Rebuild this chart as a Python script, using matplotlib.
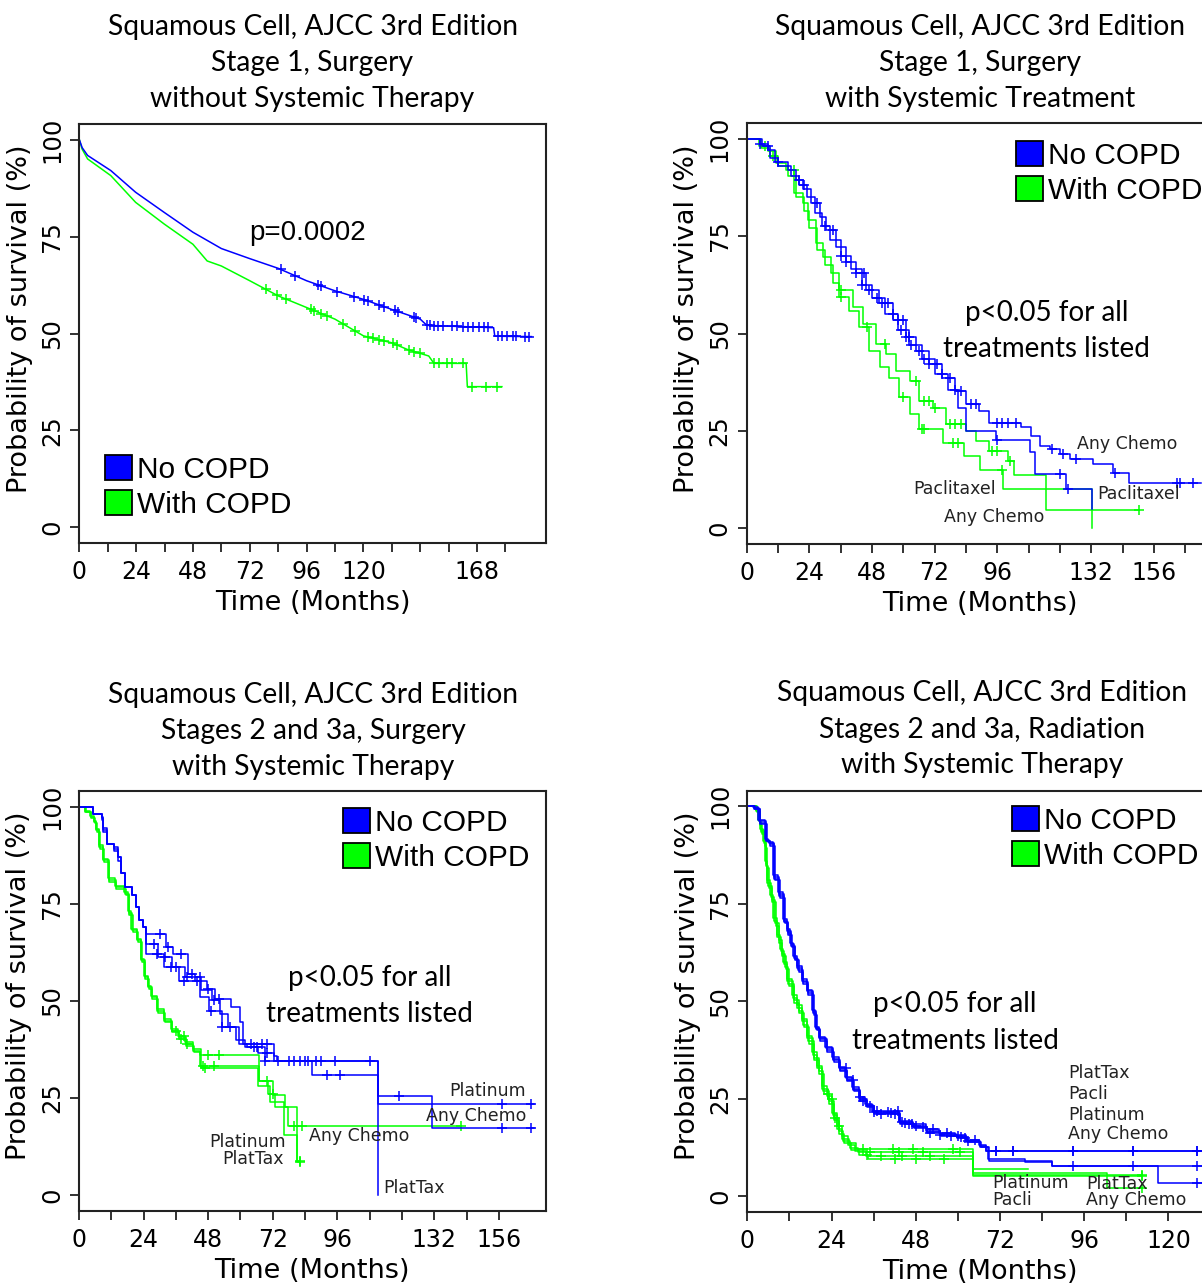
import numpy as np
import matplotlib
matplotlib.use("Agg")
import matplotlib.pyplot as plt
from matplotlib.patches import Patch

W, H = 1202, 1283
BLUE = "#0000ff"
GREEN = "#00ff00"
TITLE_FONT = "Lato"
AXIS_FONT = "DejaVu Sans"
LEGEND_FONT = "Liberation Sans"

# ---- panel 1: stage 1, surgery without systemic therapy ----
p1_no_t = [0, 1.2, 3.5, 13.3, 23.8, 35.9, 48, 60, 72, 84, 96, 108, 120, 132, 144, 146.8, 175, 175.5, 191]
p1_no_s = [100, 97.9, 95.9, 92.0, 86.4, 81.2, 76.1, 71.9, 69.3, 66.8, 63.6, 61.0, 58.8, 56.2, 53.7, 52.1, 51.5, 49.3, 49.2]
p1_no_cens = [85, 91, 100.8, 102.3, 109, 116, 120.4, 122, 126.5, 128.7, 133.2, 134.8, 141.5, 142.3, 146.8,
              148.3, 149.8, 151.3, 153.6, 157.4, 159.7, 161.9, 164.2, 166.4, 168.7, 171, 172.5, 177, 178.5,
              180.8, 183, 184.6, 188.3, 189.8]
p1_copd_t = [0, 1.2, 3.5, 13.3, 23.8, 35.9, 48, 54, 60, 72, 84, 96, 108, 120, 132, 138.5, 147.6, 149.8, 163.4, 163.9, 178.5]
p1_copd_s = [100, 97.5, 95, 90.7, 83.8, 78.2, 73, 68.7, 67.4, 63.6, 59.7, 56.7, 53.7, 49.4, 47.6, 45.9, 44.2, 42.3, 42.3, 36.3, 36.3]
p1_copd_cens = [78.9, 83.4, 87.2, 97.8, 99.3, 102.3, 104.6, 111.4, 116.6, 121.9, 124.2, 126.5, 128.7, 132.5, 134,
                139.3, 141.5, 143.8, 149.8, 152.1, 155.1, 157.4, 161.9, 165.7, 171.7, 176.3]

# ---- panel 2: stage 1, surgery with systemic treatment ----
p2_no_any_t = [0, 5, 8, 11, 16, 19, 21.5, 24.7, 28, 30.4, 34.2, 38, 42, 45.7, 50.8, 56, 61, 65, 70, 75, 80, 84, 89,
               93, 105, 109, 112.4, 116.3, 120, 124, 132.8, 140.5, 146.3, 174]
p2_no_any_s = [100, 98.5, 97, 94, 92, 89.5, 87, 83.5, 80, 76.6, 72.3, 68.4, 65.4, 61.1, 57.7, 53.4, 49.1, 45.6, 42.2,
               38.7, 35.3, 32, 30, 27, 26, 23.8, 21.2, 20.3, 19, 17.7, 16.4, 14.3, 11.7, 11.7]
p2_no_any_cens = [5, 12, 20, 27, 33, 38, 42, 45, 47, 52, 54, 58, 60, 61, 62, 66, 70, 73, 78, 82, 86, 88, 96, 98, 100,
                  103, 117, 121, 126, 141, 165, 166, 171]
p2_no_pac_t = [0, 6, 9, 12, 17, 20, 23, 26, 29, 32, 36, 40, 44, 48, 53, 58, 62, 67, 72, 77, 81, 84.1, 95.6, 108.5,
               110.5, 122.4, 132.2]
p2_no_pac_s = [100, 98, 95, 93, 90.5, 88, 85, 81, 77.5, 74, 70, 66.5, 62.5, 59, 55, 51, 47, 43.5, 39.5, 35.5, 31, 25,
               22.8, 19.5, 14, 10.1, 5]
p2_no_pac_cens = [8, 22, 30, 36, 44, 50, 56, 59, 63, 68, 75, 80, 96, 120, 123]
p2_copd_any_t = [0, 4.9, 8, 11.2, 15.1, 18.3, 21.5, 23.4, 26.6, 29.1, 32.3, 35.5, 40.6, 44.5, 49.6, 53.4, 57.2, 62.4,
                 66.2, 71.3, 76.4, 84.1, 87.9, 93, 100, 102.6, 114.7, 150.5]
p2_copd_any_s = [100, 98, 96.8, 93.8, 92, 86, 83.5, 79.2, 73.1, 69.7, 65.4, 61.1, 56.8, 52.5, 47.3, 44.8, 40.4, 37.9,
                 32.7, 31, 26.7, 25, 22.4, 19.8, 17.2, 13.8, 4.7, 4.7]
p2_copd_any_cens = [7, 18, 36, 53, 65, 68, 70, 72, 78, 80, 82, 94, 96, 101, 150.5]
p2_copd_pac_t = [0, 5.5, 9, 12, 16, 19, 22, 24, 27, 30, 33, 35.5, 39.3, 43.2, 47, 50.9, 54.7, 58.5, 62.4, 66.2, 75.1,
                 83.4, 89.2, 98.1, 132.2]
p2_copd_pac_s = [100, 97.5, 95.5, 93, 90.5, 85, 81.5, 77, 71.5, 67.5, 63, 59.4, 55.9, 51.6, 45.6, 41.3, 38.7, 33.6,
                 29.3, 25.4, 21.9, 18.5, 15.1, 10.1, 0]
p2_copd_pac_cens = [10, 36, 46, 60, 67, 68, 79, 81, 98]

# ---- panel 3: stages 2 and 3a, surgery with systemic therapy ----
p3_no_plat_t = [0, 5.3, 8.4, 9, 10.4, 13, 14.4, 15.7, 17.1, 19.7, 21, 22.4, 23.7, 25, 32.4, 35, 40.4, 43, 47.7, 50.4,
                56.4, 59.7, 61, 72.4, 73.7, 111, 131, 169]
p3_no_plat_s = [100, 98.1, 97.2, 94.5, 90.4, 89.5, 87, 82.8, 79.3, 77.2, 74.2, 70.7, 69, 67.3, 63.9, 62.1, 57, 55.2,
                53.1, 50.5, 48.4, 44.5, 38.9, 35.9, 34.6, 25.6, 23.4, 23.4]
p3_no_plat_cens = [30, 33, 38, 42, 48, 52, 64, 68, 70, 80, 85, 88, 95, 119, 157, 168]
p3_no_any_t = [0, 5.3, 8.4, 9, 10.4, 13, 14.4, 15.7, 17.1, 19.7, 21, 22.4, 23.7, 25, 29.5, 34.5, 39.5, 45.5, 49.5,
               52.5, 55.5, 59.5, 62.5, 66.5, 72.5, 86.5, 111, 131, 169]
p3_no_any_s = [100, 98.1, 96.5, 93.5, 90.4, 88.5, 86, 82.8, 79.3, 77.2, 74.2, 70.7, 69, 64.7, 61.3, 58.7, 56.1, 52.7,
               50.1, 46.6, 43.2, 38.9, 38, 36.5, 34.6, 31, 23.4, 17.3, 17.3]
p3_no_any_cens = [28, 32, 36, 40, 45, 50, 56, 65, 70, 78, 82, 92, 97, 157, 168]
p3_no_pt_t = [0, 5.3, 8.4, 9, 10.4, 13, 14.4, 15.7, 17.1, 19.7, 21, 22.4, 23.7, 25, 31.7, 37, 45, 48.4, 53, 58.4,
              61.7, 69, 111]
p3_no_pt_s = [100, 98.1, 97, 94, 90.4, 89, 87, 82.8, 79.3, 77.2, 74.2, 70.7, 69, 62.1, 58.7, 55.2, 50.9, 47.5, 43.2,
              39.8, 38, 34.6, 0]
p3_no_pt_cens = [29, 34, 39, 44, 49, 53, 66, 69, 74, 84, 90, 108]
p3_copd_any_t = [0, 2.4, 4.4, 5.7, 6.4, 7.5, 9, 11.1, 13.7, 17.1, 18.4, 19.7, 21.7, 23.1, 24.4, 25.7, 27.1, 29.1,
                 31.7, 34.4, 37.1, 39.7, 42.4, 45, 67, 72, 76.4, 77.5, 142]
p3_copd_any_s = [100, 98.7, 97.4, 96.1, 94, 89.7, 86.2, 81.1, 79.3, 77.6, 72.5, 68.2, 65.6, 60.4, 56.1, 53.5, 50.9,
                 47.5, 44.9, 42.3, 40.6, 38.9, 37.2, 36, 29.3, 25.8, 22.8, 17.8, 17.8]
p3_copd_any_cens = [36, 40, 48, 52, 70, 80, 83, 142]
p3_copd_plat_t = [0, 2.6, 4.6, 5.9, 6.6, 7.7, 9.2, 11.3, 13.9, 17.3, 18.6, 19.9, 21.9, 23.3, 24.6, 25.9, 27.3, 29.3,
                  31.9, 34.6, 37.3, 39.9, 42.6, 45, 67, 70.4, 73, 81.1, 82.1]
p3_copd_plat_s = [100, 98.5, 97, 95.8, 93.5, 89.2, 85.8, 80.7, 78.9, 77.2, 72, 67.8, 65.2, 60, 55.7, 53, 50.5, 47,
                  44.5, 41.9, 40.2, 38.5, 36.8, 33.3, 29.5, 26, 22.8, 8.5, 8.5]
p3_copd_plat_cens = [38, 46, 50, 72, 82]
p3_copd_pt_t = [0, 2.2, 4.2, 5.5, 6.2, 7.3, 8.8, 10.9, 13.5, 16.9, 18.2, 19.5, 21.5, 22.9, 24.2, 25.5, 26.9, 28.9,
                31.5, 34.2, 36.9, 39.5, 42.2, 45.5, 66.5, 71, 76, 81, 82]
p3_copd_pt_s = [100, 98.9, 97.6, 96.4, 94.3, 90.1, 86.6, 81.5, 79.6, 78, 73, 68.6, 66, 60.8, 56.5, 53.9, 51.3, 47.9,
                45.3, 42.7, 41, 39.3, 37.5, 32.8, 28, 24, 15.6, 8.8, 8.8]
p3_copd_pt_cens = [39, 47, 82]

# ---- panel 4: stages 2 and 3a, radiation with systemic therapy ----
p4_no_any_t = [0, 1.9, 3.3, 5.2, 6.2, 7.6, 9, 10.5, 11.4, 12.4, 13.3, 14.3, 15.7, 17.1, 18.6, 19.5, 20.5, 22.4, 24.3,
               26.2, 28.1, 30, 31.9, 33.8, 35.7, 43.3, 47.1, 51, 54.8, 59.5, 62.4, 66.2, 68.1, 131]
p4_no_any_s = [100, 99.6, 96.1, 91.4, 90.5, 81.9, 77.6, 70.7, 68.1, 64.7, 61.2, 58.6, 55.2, 52.6, 47.4, 43.1, 40.5,
               37.9, 35.3, 32.8, 30.2, 27.6, 25, 23.3, 21.6, 19, 18.1, 16.8, 15.9, 15.5, 14.2, 12.9, 11.6, 11.6]
p4_no_any_cens = [28, 36, 40, 44, 48, 60, 63, 71, 75.8, 92.9, 110, 128.2]
p4_no_plat_t = [0, 2.2, 3.6, 5.5, 6.5, 7.9, 9.3, 10.8, 11.7, 12.7, 13.6, 14.6, 16, 17.4, 18.9, 19.8, 20.8, 22.7, 24.6,
                26.5, 28.4, 30.3, 32.2, 34.1, 36, 43.6, 47.4, 51.3, 55.1, 59.8, 62.7, 66.5, 69, 86.7, 131]
p4_no_plat_s = [100, 99.2, 95.5, 91, 89.8, 81, 76.5, 70, 67, 63.8, 60.5, 57.5, 54.3, 51.5, 46.5, 42.5, 39.8, 37, 34.5,
                32, 29.5, 27, 24.5, 22.8, 21, 18.5, 17.5, 16.3, 15.5, 15, 13.8, 12.5, 9, 7.8, 7.8]
p4_no_plat_cens = [33, 38, 42, 46, 52, 58, 62, 92.9, 110, 128.2]
p4_no_pt_t = [0, 2, 3.5, 5.3, 6.4, 7.7, 9.1, 10.6, 11.6, 12.5, 13.5, 14.4, 15.9, 17.2, 18.7, 19.7, 20.7, 22.6, 24.5,
              26.4, 28.3, 30.2, 32.1, 34, 36, 43.4, 47.3, 51.1, 55, 59.7, 62.6, 66.4, 68.5, 79, 86.7, 117, 131]
p4_no_pt_s = [100, 99.4, 95.8, 91.2, 90.2, 81.4, 77, 70.3, 67.5, 64.2, 60.8, 58, 54.8, 52, 47, 42.8, 40.2, 37.5, 34.9,
              32.4, 29.8, 27.3, 24.8, 23, 21.3, 18.7, 17.8, 16.5, 15.7, 15.2, 14, 12.7, 9.5, 8.8, 7.8, 3.4, 3.4]
p4_no_pt_cens = [30, 35, 41, 45, 50, 55, 61, 128.2]
p4_no_pac_t = [0, 1.7, 3.1, 5, 6, 7.4, 8.8, 10.3, 11.2, 12.2, 13.1, 14.1, 15.5, 16.9, 18.4, 19.3, 20.3, 22.2, 24.1,
               26, 27.9, 29.8, 31.7, 33.6, 35.5, 43.1, 46.9, 50.8, 54.6, 59.3, 62.2, 66, 68.1, 131]
p4_no_pac_s = [100, 99.8, 96.4, 91.6, 90.8, 82.3, 78, 71, 68.5, 65, 61.6, 59, 55.6, 53, 47.8, 43.5, 40.8, 38.2, 35.6,
               33.1, 30.5, 27.9, 25.3, 23.6, 21.9, 19.3, 18.4, 17.1, 16.2, 15.7, 14.5, 13.2, 11.6, 11.6]
p4_no_pac_cens = [32, 37, 43, 47, 53, 57, 65, 71, 75.8, 92.9, 110, 128.2]
p4_copd_any_t = [0, 2.4, 3.3, 3.8, 4.8, 5.2, 5.7, 6.7, 7.6, 8.6, 9.5, 10.5, 11.4, 12.9, 14.3, 15.7, 17.1, 18.6, 20,
                 21.4, 22.9, 24.3, 25.7, 27.1, 29, 31, 64.3, 102.4, 112.4]
p4_copd_any_s = [100, 99.1, 96.1, 93.9, 90.5, 85.3, 80.2, 76.7, 70.7, 66.4, 62.9, 59.5, 55.2, 50.9, 48.3, 44.8, 40.5,
                 36.2, 32.8, 27.6, 25, 20.7, 17.2, 14.7, 13.5, 12.1, 6, 2.1, 2.1]
p4_copd_any_cens = [24, 33, 41.4, 47.1, 58.6, 112.4]
p4_copd_plat_t = [0, 2.6, 3.5, 4, 5, 5.4, 6, 6.9, 7.9, 8.9, 9.8, 10.8, 11.7, 13.2, 14.6, 16, 17.4, 18.9, 20.3, 21.7,
                  23.2, 24.6, 26, 27.4, 29.3, 31.5, 64.3, 80]
p4_copd_plat_s = [100, 98.8, 95.6, 93.4, 89.8, 84.6, 79.5, 76, 70, 65.6, 62.2, 58.8, 54.5, 50.2, 47.6, 44, 39.8, 35.5,
                  32, 27, 24.3, 20, 16.6, 14.2, 12.4, 11.2, 6.9, 6.9]
p4_copd_plat_cens = [25, 35, 43.3, 50, 60.5]
p4_copd_pac_t = [0, 2.2, 3.1, 3.6, 4.6, 5, 5.5, 6.5, 7.4, 8.4, 9.3, 10.3, 11.2, 12.7, 14.1, 15.5, 16.9, 18.4, 19.8,
                 21.2, 22.7, 24.1, 25.5, 26.9, 28.8, 30.8, 33.8, 64.3, 112.5]
p4_copd_pac_s = [100, 99.3, 96.5, 94.2, 91, 86, 81, 77.3, 71.3, 67, 63.5, 60.1, 55.8, 51.5, 49, 45.5, 41.2, 36.9,
                 33.5, 28.3, 25.7, 21.4, 17.9, 15.3, 13, 11.6, 10.3, 5.5, 5.5]
p4_copd_pac_cens = [26, 38, 44, 52, 112.5]
p4_copd_pt_t = [0, 2.8, 3.7, 4.2, 5.2, 5.6, 6.2, 7.1, 8.1, 9.1, 10, 11, 11.9, 13.4, 14.8, 16.2, 17.6, 19.1, 20.5,
                21.9, 23.4, 24.8, 26.2, 27.6, 29.5, 31.7, 34.5, 64.3, 112.5]
p4_copd_pt_s = [100, 98.5, 95.3, 93, 89.4, 84.2, 79, 75.4, 69.4, 65, 61.6, 58.2, 54, 49.6, 47, 43.3, 39, 34.8, 31.3,
                26.3, 23.6, 19.4, 16, 13.6, 11.9, 10.5, 9.5, 5.2, 5.2]
p4_copd_pt_cens = [23, 34, 42, 48, 56, 112.5]

titles = [
    ["Squamous Cell, AJCC 3rd Edition", "Stage 1, Surgery", "without Systemic Therapy"],
    ["Squamous Cell, AJCC 3rd Edition", "Stage 1, Surgery", "with Systemic Treatment"],
    ["Squamous Cell, AJCC 3rd Edition", "Stages 2 and 3a, Surgery", "with Systemic Therapy"],
    ["Squamous Cell, AJCC 3rd Edition", "Stages 2 and 3a, Radiation", "with Systemic Therapy"],
]
shown_ticks = [
    [0, 24, 48, 72, 96, 120, 168],
    [0, 24, 48, 72, 96, 132, 156],
    [0, 24, 48, 72, 96, 132, 156],
    [0, 24, 48, 72, 96, 120],
]
legend_labels = ["No COPD", "With COPD"]
p_note = ["p<0.05 for all", "treatments listed"]

# curve end labels: (text, month, survival)
p2_labels = [("Any Chemo", 126.7, 21.6), ("Paclitaxel", 63.7, 10.2),
             ("Paclitaxel", 134.3, 8.7), ("Any Chemo", 75.7, 2.8)]
p3_labels = [("Platinum", 137.5, 26.9), ("Any Chemo", 129, 20.4), ("Any Chemo", 85.5, 15.2),
             ("Platinum", 48.3, 13.7), ("PlatTax", 53.2, 9.3), ("PlatTax", 113, 1.8)]
p4_labels = [("PlatTax", 91.4, 31.6), ("Pacli", 91.4, 26.2), ("Platinum", 91.4, 20.7),
             ("Any Chemo", 91.4, 15.9), ("Platinum", 69.7, 3.4), ("Pacli", 69.7, -1.0),
             ("PlatTax", 96.5, 3.2), ("Any Chemo", 96.5, -1.0)]

fig = plt.figure(figsize=(W / 100, H / 100), dpi=100)


def px_rect(left, top, width, height):
    return [left / W, 1 - (top + height) / H, width / W, height / H]


def draw_panel(rect, xmax, last_tick, shown, curves, step=True):
    ax = fig.add_axes(px_rect(*rect))
    for t, s, cens, color in curves:
        t = np.asarray(t, float)
        s = np.asarray(s, float)
        cens = np.asarray(cens, float)
        if step:
            ax.step(t, s, where="post", color=color, lw=1.1)
            cy = s[np.searchsorted(t, cens, side="right") - 1]
        else:
            ax.plot(t, s, color=color, lw=1.1)
            cy = np.interp(cens, t, s)
        ax.plot(cens, cy, ls="none", marker="+", ms=7, mew=1.1, color=color)

    ax.set_xlim(0, xmax)
    ax.set_ylim(-4, 104)
    ticks = np.arange(0, last_tick + 1, 12)
    ax.set_xticks(ticks)
    ax.set_xticklabels([str(v) if v in shown else "" for v in ticks], fontfamily=AXIS_FONT, fontsize=17)
    ax.set_yticks([0, 25, 50, 75, 100])
    ax.set_yticklabels(["0", "25", "50", "75", "100"], fontfamily=AXIS_FONT, fontsize=17.5,
                       rotation=90, va="center")
    ax.tick_params(axis="both", direction="out", length=6.3, width=1.3, color="#222222")
    ax.tick_params(axis="x", pad=6)
    ax.tick_params(axis="y", pad=4.5)
    for sp in ax.spines.values():
        sp.set_linewidth(1.5)
        sp.set_color("#222222")

    ax.set_xlabel("Time (Months)", fontfamily=AXIS_FONT, fontsize=19.5)
    ax.xaxis.set_label_coords(0.5, -0.112)
    ax.set_ylabel("Probability of survival (%)", fontfamily=AXIS_FONT, fontsize=19.5)
    ax.yaxis.set_label_coords(-0.1, 0.536)
    return ax


def add_legend(ax, loc, anchor):
    handles = [Patch(facecolor=BLUE, edgecolor="black", lw=1.3),
               Patch(facecolor=GREEN, edgecolor="black", lw=1.3)]
    ax.legend(handles, legend_labels, loc=loc, bbox_to_anchor=anchor, frameon=False,
              prop={"family": LEGEND_FONT, "size": 21.5}, handlelength=0.9, handleheight=0.9,
              handletextpad=0.17, labelspacing=0.22, borderpad=0, borderaxespad=0)


def add_title(x_px, baselines, lines):
    for y_px, line in zip(baselines, lines):
        fig.text(x_px / W, 1 - y_px / H, line, ha="center", va="baseline",
                 fontfamily=TITLE_FONT, fontsize=20.3)


def add_note(ax, x, ys):
    for y, line in zip(ys, p_note):
        ax.text(x, y, line, ha="center", va="center", fontfamily=TITLE_FONT, fontsize=20)


def add_curve_labels(ax, labels):
    for text, x, y in labels:
        ax.text(x, y, text, ha="left", va="center", fontfamily=AXIS_FONT, fontsize=12.5, color="#222222")


# panel 1
ax1 = draw_panel((79.3, 124, 466.4, 419), 197, 180, shown_ticks[0],
                 [(p1_copd_t, p1_copd_s, p1_copd_cens, GREEN),
                  (p1_no_t, p1_no_s, p1_no_cens, BLUE)], step=False)
add_legend(ax1, "lower left", (0.055, 0.057))
ax1.text(96.2, 76, "p=0.0002", ha="center", va="center", fontfamily=LEGEND_FONT, fontsize=20)
add_title(312.5, [35, 71.5, 107.5], titles[0])

# panel 2
ax2 = draw_panel((746.7, 123, 466.4, 421), 178.7, 168, shown_ticks[1],
                 [(p2_copd_any_t, p2_copd_any_s, p2_copd_any_cens, GREEN),
                  (p2_copd_pac_t, p2_copd_pac_s, p2_copd_pac_cens, GREEN),
                  (p2_no_any_t, p2_no_any_s, p2_no_any_cens, BLUE),
                  (p2_no_pac_t, p2_no_pac_s, p2_no_pac_cens, BLUE)])
add_legend(ax2, "upper left", (0.577, 0.957))
add_note(ax2, 115, [55.2, 46.1])
add_curve_labels(ax2, p2_labels)
add_title(980, [35, 71.5, 107.5], titles[1])

# panel 3
ax3 = draw_panel((79, 791, 466.7, 419.7), 173.4, 156, shown_ticks[2],
                 [(p3_copd_any_t, p3_copd_any_s, p3_copd_any_cens, GREEN),
                  (p3_copd_plat_t, p3_copd_plat_s, p3_copd_plat_cens, GREEN),
                  (p3_copd_pt_t, p3_copd_pt_s, p3_copd_pt_cens, GREEN),
                  (p3_no_plat_t, p3_no_plat_s, p3_no_plat_cens, BLUE),
                  (p3_no_any_t, p3_no_any_s, p3_no_any_cens, BLUE),
                  (p3_no_pt_t, p3_no_pt_s, p3_no_pt_cens, BLUE)])
add_legend(ax3, "upper left", (0.566, 0.9595))
add_note(ax3, 108, [55.8, 46.5])
add_curve_labels(ax3, p3_labels)
add_title(313, [702.5, 739.5, 775.5], titles[2])

# panel 4
ax4 = draw_panel((747.3, 790.7, 466, 421), 132.8, 132, shown_ticks[3],
                 [(p4_copd_any_t, p4_copd_any_s, p4_copd_any_cens, GREEN),
                  (p4_copd_plat_t, p4_copd_plat_s, p4_copd_plat_cens, GREEN),
                  (p4_copd_pac_t, p4_copd_pac_s, p4_copd_pac_cens, GREEN),
                  (p4_copd_pt_t, p4_copd_pt_s, p4_copd_pt_cens, GREEN),
                  (p4_no_any_t, p4_no_any_s, p4_no_any_cens, BLUE),
                  (p4_no_plat_t, p4_no_plat_s, p4_no_plat_cens, BLUE),
                  (p4_no_pt_t, p4_no_pt_s, p4_no_pt_cens, BLUE),
                  (p4_no_pac_t, p4_no_pac_s, p4_no_pac_cens, BLUE)])
add_legend(ax4, "upper left", (0.568, 0.9637))
add_note(ax4, 59.2, [49.2, 39.7])
add_curve_labels(ax4, p4_labels)
add_title(982, [700.5, 737.5, 773.5], titles[3])

fig.savefig("out.png", dpi=100)
